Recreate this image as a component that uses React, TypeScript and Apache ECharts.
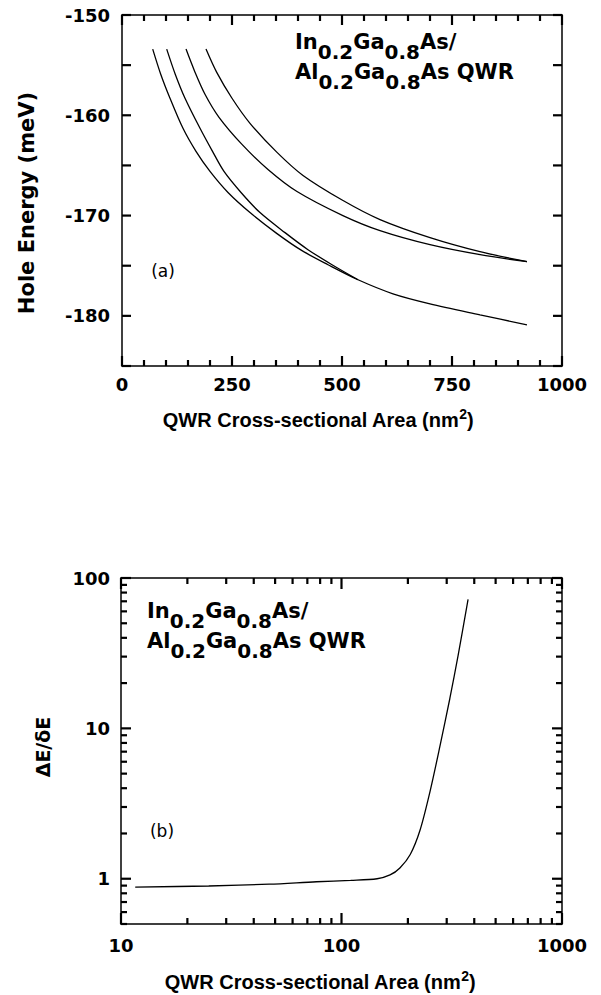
import React, { useEffect, useRef } from 'react';
import * as echarts from 'echarts';

// ---------- Panel (a): hole energy vs QWR cross-sectional area ----------
const areaTicksA = [0, 250, 500, 750, 1000];
const areaMinorTicksA = [50, 100, 150, 200, 300, 350, 400, 450, 550, 600, 650, 700, 800, 850, 900, 950];
const energyTickLabelsA = [-150, -160, -170, -180];
const energyTicksA = [-185, -180, -175, -170, -165, -160, -155, -150];

const c1Area = [69.8, 88, 109.1, 138.6, 168.2, 200, 240.9, 290.9, 352.3, 409.1, 468.2, 536.4, 615.9, 700, 813.6, 920.4];
const c1Energy = [-153.4, -155.9, -158.3, -161.3, -163.6, -165.6, -167.7, -169.7, -171.8, -173.5, -174.9, -176.4, -177.8, -178.8, -179.9, -180.9];

const c2Area = [101.6, 121, 143.2, 177.3, 205.7, 231.8, 270.5, 313.6, 370.5, 422.7, 477.3, 536.4];
const c2Energy = [-153.4, -155.9, -158.3, -161.3, -163.6, -165.6, -167.7, -169.7, -171.7, -173.4, -174.9, -176.4];

const c3Area = [145.5, 165, 188.6, 220.5, 272.7, 331.8, 397.7, 502, 586.4, 700, 814, 920.4];
const c3Energy = [-153.4, -155.6, -157.9, -160.2, -162.9, -165.4, -167.6, -170.0, -171.5, -172.9, -173.9, -174.6];

const c4Area = [190.9, 215, 250, 290.9, 352.3, 411.4, 502.3, 586.4, 700, 813.6, 920.4];
const c4Energy = [-153.4, -155.7, -158.3, -160.8, -163.7, -166.0, -168.5, -170.4, -172.2, -173.6, -174.6];

// ---------- Panel (b): ΔE/δE vs area (log-log) ----------
const logMajorX = [10, 100, 1000];
const logMinorX = [20, 30, 40, 50, 60, 70, 80, 90, 200, 300, 400, 500, 600, 700, 800, 900];
const logMajorY = [1, 10, 100];
const logMinorY = [0.5, 0.6, 0.7, 0.8, 0.9, 2, 3, 4, 5, 6, 7, 8, 9, 20, 30, 40, 50, 60, 70, 80, 90];

const ratioArea = [11.6, 25, 47, 77, 110, 145, 166, 184, 205, 227, 252, 280, 310, 338, 375];
const ratioValue = [0.88, 0.895, 0.92, 0.955, 0.975, 1.0, 1.06, 1.18, 1.45, 2.1, 3.8, 7.7, 15.8, 30.6, 72];

const zip = (xs: number[], ys: number[]) => xs.map((x, i) => [x, ys[i]]);

const BLACK = '#000';
const TICK = '#000000';
const tickFont = {
  fontFamily: '"DejaVu Sans", sans-serif',
  fontWeight: 'bold' as const,
  fontSize: 18,
  color: BLACK,
};
const frameLine = { show: true, onZero: false, lineStyle: { color: BLACK, width: 1.5 } };

const numFmt = (v: number) => String(Math.round(v * 1000) / 1000);

function linearX(position: 'top' | 'bottom', labels: boolean) {
  return {
    gridIndex: 0,
    type: 'value',
    position,
    min: areaTicksA[0],
    max: areaTicksA[areaTicksA.length - 1],
    interval: areaTicksA[1] - areaTicksA[0],
    axisLine: frameLine,
    axisTick: { show: false },
    minorTick: { show: false },
    axisLabel: { show: labels, ...tickFont, margin: 9, formatter: numFmt },
    splitLine: { show: false },
  };
}

function linearY(position: 'left' | 'right', labels: boolean) {
  return {
    gridIndex: 0,
    type: 'value',
    position,
    min: -185,
    max: -150,
    interval: 5,
    axisLine: frameLine,
    axisTick: { show: false },
    axisLabel: {
      show: labels,
      ...tickFont,
      margin: 12,
      formatter: (v: number) => (energyTickLabelsA.indexOf(v) >= 0 ? String(v) : ''),
    },
    splitLine: { show: false },
  };
}

function logX(position: 'top' | 'bottom', labels: boolean) {
  return {
    gridIndex: 1,
    type: 'log',
    logBase: 10,
    position,
    min: 10,
    max: 1000,
    axisLine: frameLine,
    axisTick: { show: false },
    axisLabel: labels
      ? { show: true, ...tickFont, margin: 12, customValues: logMajorX, formatter: numFmt }
      : { show: false },
    splitLine: { show: false },
  };
}

function logY(position: 'left' | 'right', labels: boolean) {
  return {
    gridIndex: 1,
    type: 'log',
    logBase: 10,
    position,
    min: 0.5,
    max: 100,
    axisLine: frameLine,
    axisTick: { show: false },
    axisLabel: labels
      ? { show: true, ...tickFont, margin: 11, customValues: logMajorY, formatter: numFmt }
      : { show: false },
    splitLine: { show: false },
  };
}

const lineSeries = (name: string, data: number[][], xi: number, yi: number) => ({
  name,
  type: 'line',
  xAxisIndex: xi,
  yAxisIndex: yi,
  data,
  smooth: 0.3,
  showSymbol: false,
  symbol: 'none',
  lineStyle: { color: BLACK, width: 1.3 },
  silent: true,
  z: 3,
});

// Tick marks: thin rect symbols placed through each axis' own scale.
function tickMarks(
  xi: number,
  yi: number,
  values: number[],
  side: 'b' | 't' | 'l' | 'r',
  edgeValue: number,
  len: number
) {
  const w = 2.2;
  const isX = side === 'b' || side === 't';
  const size = isX ? [w, len] : [len, w];
  const offset =
    side === 'b' ? [0, -len / 2] : side === 't' ? [0, len / 2] : side === 'l' ? [len / 2, 0] : [-len / 2, 0];
  return {
    type: 'scatter',
    xAxisIndex: xi,
    yAxisIndex: yi,
    silent: true,
    clip: false,
    z: 4,
    symbol: 'rect',
    symbolSize: size,
    symbolOffset: offset,
    itemStyle: { color: TICK, opacity: 1 },
    data: values.map((v) => (isX ? [v, edgeValue] : [edgeValue, v])),
  };
}

const annoRich = {
  m: { fontFamily: '"DejaVu Sans", sans-serif', fontWeight: 'bold', fontSize: 21, lineHeight: 30, fill: BLACK, color: BLACK },
  s: { fontFamily: '"DejaVu Sans", sans-serif', fontWeight: 'bold', fontSize: 20, lineHeight: 30, padding: [20, 0, 0, 0], fill: BLACK, color: BLACK },
};
const annoText = '{m|In}{s|0.2}{m|Ga}{s|0.8}{m|As/}\n{m|Al}{s|0.2}{m|Ga}{s|0.8}{m|As QWR}';

const titleRich = {
  t: { fontFamily: '"Liberation Sans", Arial, sans-serif', fontWeight: 'bold', fontSize: 20, lineHeight: 26, fill: BLACK, color: BLACK },
  p: { fontFamily: '"Liberation Sans", Arial, sans-serif', fontWeight: 'bold', fontSize: 14, lineHeight: 26, padding: [0, 0, 12, 0], fill: BLACK, color: BLACK },
};
const xTitle = '{t|QWR Cross-sectional Area (nm}{p|2}{t|)}';

function textEl(x: number, y: number, text: string, extra: any = {}, rotation = 0) {
  return {
    type: 'text',
    x,
    y,
    rotation,
    silent: true,
    style: { text, fill: BLACK, align: 'center', verticalAlign: 'middle', textAlign: 'center', textVerticalAlign: 'middle', ...extra },
  };
}

const option: any = {
  animation: false,
  backgroundColor: '#ffffff',
  grid: [
    { left: 122, top: 15, width: 440, height: 351, containLabel: false },
    { left: 121, top: 578, width: 441, height: 346, containLabel: false },
  ],
  xAxis: [linearX('bottom', true), linearX('top', false), logX('bottom', true), logX('top', false)],
  yAxis: [linearY('left', true), linearY('right', false), logY('left', true), logY('right', false)],
  series: [
    lineSeries('state 1', zip(c1Area, c1Energy), 0, 0),
    lineSeries('state 2', zip(c2Area, c2Energy), 0, 0),
    lineSeries('state 3', zip(c3Area, c3Energy), 0, 0),
    lineSeries('state 4', zip(c4Area, c4Energy), 0, 0),
    lineSeries('ΔE/δE', zip(ratioArea, ratioValue), 2, 2),
    // panel (a) ticks
    tickMarks(0, 0, areaTicksA, 'b', -185, 10),
    tickMarks(0, 0, areaMinorTicksA, 'b', -185, 6),
    tickMarks(0, 0, areaTicksA, 't', -150, 10),
    tickMarks(0, 0, areaMinorTicksA, 't', -150, 6),
    tickMarks(0, 0, energyTicksA, 'l', 0, 9),
    tickMarks(0, 0, energyTicksA, 'r', 1000, 9),
    // panel (b) ticks
    tickMarks(2, 2, logMajorX, 'b', 0.5, 11),
    tickMarks(2, 2, logMinorX, 'b', 0.5, 6),
    tickMarks(2, 2, logMajorX, 't', 100, 11),
    tickMarks(2, 2, logMinorX, 't', 100, 6),
    tickMarks(2, 2, logMajorY, 'l', 10, 10),
    tickMarks(2, 2, logMinorY, 'l', 10, 6),
    tickMarks(2, 2, logMajorY, 'r', 1000, 10),
    tickMarks(2, 2, logMinorY, 'r', 1000, 6),
  ],
  graphic: [
    { type: 'text', x: 295, y: 26.5, silent: true, style: { text: annoText, rich: annoRich, align: 'left', verticalAlign: 'top', textAlign: 'left', textVerticalAlign: 'top', fill: BLACK } },
    { type: 'text', x: 147, y: 595.5, silent: true, style: { text: annoText, rich: annoRich, align: 'left', verticalAlign: 'top', textAlign: 'left', textVerticalAlign: 'top', fill: BLACK } },
    textEl(163, 271, '(a)', { font: 'normal 17px "DejaVu Sans", sans-serif' }),
    textEl(162, 831, '(b)', { font: 'normal 17px "DejaVu Sans", sans-serif' }),
    textEl(318, 420, xTitle, { rich: titleRich }),
    textEl(320, 982, xTitle, { rich: titleRich }),
    textEl(27, 203, 'Hole Energy (meV)', { font: 'bold 21px "DejaVu Sans", sans-serif' }, Math.PI / 2),
    textEl(43, 747, 'ΔE/δE', { font: 'bold 19px "DejaVu Sans", sans-serif' }, Math.PI / 2),
  ],
};

export default function App() {
  const ref = useRef<HTMLDivElement>(null);
  useEffect(() => {
    if (!ref.current) return;
    const chart = echarts.init(ref.current, null, { renderer: 'svg' });
    chart.setOption(option);
    return () => chart.dispose();
  }, []);
  return <div ref={ref} style={{ position: 'absolute', left: 0, top: 0, width: 601, height: 995, background: '#fff' }} />;
}
